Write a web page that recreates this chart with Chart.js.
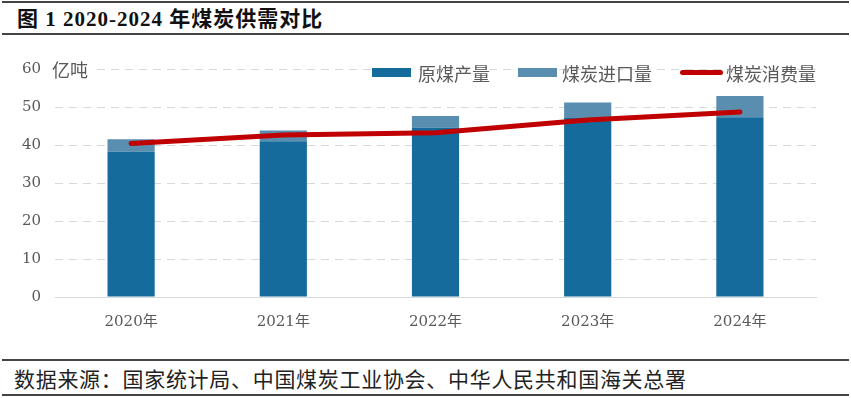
<!DOCTYPE html>
<html>
<head>
<meta charset="utf-8">
<script src="https://cdn.jsdelivr.net/npm/chart.js@4"></script>
<style>
  body { margin: 0; background: #fff; width: 851px; height: 398px; position: relative; overflow: hidden; font-family: "Liberation Serif", "Noto Sans CJK SC", serif; }
  .rule { position: absolute; left: 2px; width: 847px; background: #444; }
  #title { position: absolute; left: 17px; top: 6px; font-size: 21px; line-height: 26px; letter-spacing: 1px; font-weight: bold; color: #111; white-space: nowrap; }
  #source { position: absolute; left: 14px; top: 365px; font-size: 21px; line-height: 26px; letter-spacing: 0.7px; color: #222; white-space: nowrap; font-family: "Noto Sans CJK SC", sans-serif; }
  #box { position: absolute; left: 0; top: 40px; width: 851px; height: 300px; }
  #unit { position: absolute; left: 50px; top: 58px; font-size: 18px; line-height: 22px; color: #595959; background: #fff; padding: 0 7px 0 2px; font-family: "Noto Sans CJK SC", sans-serif; }
  .lg { position: absolute; font-size: 18px; line-height: 22px; top: 62px; color: #595959; font-family: "Noto Sans CJK SC", sans-serif; white-space: nowrap; }
  .sw { position: absolute; }
</style>
</head>
<body>
<div class="rule" style="top:1px;height:2px;"></div>
<div id="title">图 1 2020-2024 年煤炭供需对比</div>
<div class="rule" style="top:33px;height:2px;"></div>
<div id="box"><canvas id="chart"></canvas></div>
<div id="unit">亿吨</div>
<div class="sw" style="left:372px;top:68px;width:39px;height:9px;background:#156b9b"></div>
<div class="lg" style="left:418px">原煤产量</div>
<div class="sw" style="left:518px;top:68px;width:39px;height:9px;background:#5a8eb0"></div>
<div class="lg" style="left:562px">煤炭进口量</div>
<div class="sw" style="left:680px;top:70px;width:43px;height:5px;border-radius:3px;background:#c00000"></div>
<div class="lg" style="left:726px">煤炭消费量</div>
<div class="rule" style="top:359px;height:2px;"></div>
<div id="source">数据来源：国家统计局、中国煤炭工业协会、中华人民共和国海关总署</div>
<div class="rule" style="top:394px;height:2px;"></div>

<script>
// data (亿吨)
const years = ['2020年', '2021年', '2022年', '2023年', '2024年'];
const production = [38.2, 41.0, 44.6, 47.1, 47.3];
const imports = [3.3, 2.8, 3.0, 4.1, 5.6];
const consumption = [40.4, 42.6, 43.2, 46.6, 48.7];
const yTicks = [0, 10, 20, 30, 40, 50, 60];

const ctx = document.getElementById("chart");
const coalChart = new Chart(ctx, {
    data: {
        labels: years,
        datasets: [{
            type: 'line',
            label: '煤炭消费量',
            data: consumption,
            borderColor: '#c00000',
            borderWidth: 5,
            borderCapStyle: 'round',
            pointRadius: 0,
            tension: 0,
            order: 0,
        }, {
            type: 'bar',
            label: '原煤产量',
            data: production,
            backgroundColor: '#156b9b',
            barPercentage: 0.31,
            categoryPercentage: 1,
            order: 1,
        }, {
            type: 'bar',
            label: '煤炭进口量',
            data: imports,
            backgroundColor: '#5a8eb0',
            barPercentage: 0.31,
            categoryPercentage: 1,
            order: 1,
        }]
    },
    options: {
        responsive: true,
        maintainAspectRatio: false,
        animation: false,
        layout: {
            padding: { top: 29, right: 35, left: 0, bottom: 0 }
        },
        plugins: {
            legend: { display: false },
            tooltip: { enabled: false },
        },
        scales: {
            x: {
                stacked: true,
                grid: { display: false },
                border: { color: '#d9d9d9', width: 1 },
                ticks: {
                    color: '#595959',
                    font: { size: 15, family: 'DejaVu Serif, Noto Sans CJK SC' },
                    padding: 8,
                },
                afterFit: (scale) => { scale.height = 43; },
            },
            y: {
                stacked: true,
                min: 0,
                max: 60,
                afterBuildTicks: (scale) => { scale.ticks = yTicks.map(v => ({ value: v })); },
                grid: {
                    color: (c) => c.tick.value === 0 ? 'rgba(0,0,0,0)' : '#d9d9d9',
                    drawTicks: false,
                },
                border: { display: false, dash: [8, 6] },
                ticks: {
                    color: '#595959',
                    font: { size: 15, family: 'DejaVu Serif' },
                    padding: 14,
                },
                afterFit: (scale) => { scale.width = 55; },
            },
        },
    },
});
</script>
</body>
</html>
